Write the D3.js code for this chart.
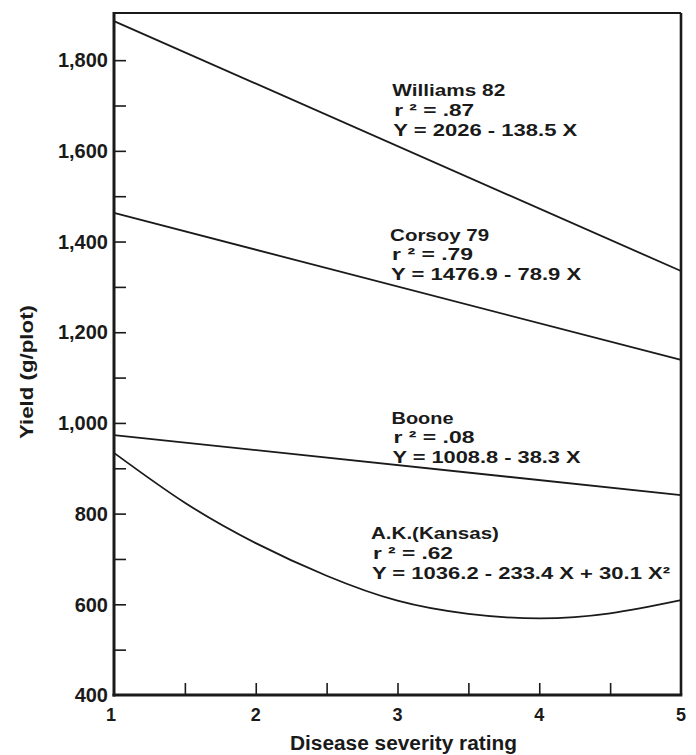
<meta http-equiv="Content-type" content="text/html;charset=UTF-8">
<html>
	<head>
		<title>Yield vs disease severity</title>
		<script src="https://d3js.org/d3.v7.min.js"></script>
		<style>
			body { margin: 0; background: #fff; }
			text { font-family: "Liberation Sans", Arial, sans-serif; font-weight: bold; fill: #1a1a1a; }
		</style>
	</head>
	<body>
		<div id="chart"></div>
		<script>
			// values
			var lineX = [1, 5];
			var williams = [1886, 1335];
			var corsoy = [1463, 1139];
			var boone = [973, 841];
			var akX = [1, 1.5, 2, 2.5, 3, 3.5, 4, 4.5, 5];
			var kansas = [934, 824, 735, 663, 608, 579, 569, 580, 609];

			var yLabelTicks = [400, 600, 800, 1000, 1200, 1400, 1600, 1800];
			var yMinorTicks = [500, 600, 700, 800, 900, 1000, 1100, 1200, 1300, 1400, 1500, 1600, 1700, 1800];
			var xLabelTicks = [1, 2, 3, 4, 5];
			var xMinorTicks = [1.5, 2, 2.5, 3, 3.5, 4, 4.5];

			var names = ["Williams 82", "Corsoy 79", "Boone", "A.K.(Kansas)"];
			var rsq = ["r \u00b2 = .87", "r \u00b2 = .79", "r \u00b2 = .08", "r \u00b2 = .62"];
			var eqs = ["Y = 2026 - 138.5 X", "Y = 1476.9 - 78.9 X", "Y = 1008.8 - 38.3 X", "Y = 1036.2 - 233.4 X + 30.1 X\u00b2"];
			// label anchor (x value, y value at equation baseline) and text widths
			var labelX = [2.97, 2.955, 2.965, 2.82];
			var labelY = [1633, 1315, 911, 656];
			var nameW = [113, 99, 62, 128], rsqW = [80, 81, 81, 80], eqW = [184, 190, 188, 298];

			var W = 696, H = 755;
			var x = d3.scaleLinear().domain([1, 5]).range([114, 681]);
			var y = d3.scaleLinear().domain([400, 1904]).range([695, 13]);

			var svg = d3.select("#chart").append("svg").attr("width", W).attr("height", H);

			// data lines
			var line = d3.line().x(function(d){ return x(d[0]); }).y(function(d){ return y(d[1]); });
			var curve = d3.line().curve(d3.curveNatural).x(function(d){ return x(d[0]); }).y(function(d){ return y(d[1]); });
			[williams, corsoy, boone].forEach(function(s){
				svg.append("path").attr("d", line(d3.zip(lineX, s)))
					.attr("fill", "none").attr("stroke", "#1a1a1a").attr("stroke-width", 1.8);
			});
			svg.append("path").attr("d", curve(d3.zip(akX, kansas)))
				.attr("fill", "none").attr("stroke", "#1a1a1a").attr("stroke-width", 1.8);

			// frame
			svg.append("line").attr("x1", x(1)).attr("x2", x(5)).attr("y1", y(1904)).attr("y2", y(1904)).attr("stroke", "#1a1a1a").attr("stroke-width", 2.2);
			svg.append("line").attr("x1", x(5)).attr("x2", x(5)).attr("y1", y(1904)).attr("y2", y(400)).attr("stroke", "#1a1a1a").attr("stroke-width", 2.6);

			// axes with inward ticks
			var yAxis = d3.axisRight(y).tickValues(yMinorTicks).tickSize(12).tickFormat("");
			var gy = svg.append("g").attr("transform", "translate(" + x(1) + ",0)").call(yAxis);
			var xAxis = d3.axisTop(x).tickValues(xMinorTicks).tickSize(12).tickFormat("");
			var gx = svg.append("g").attr("transform", "translate(0," + y(400) + ")").call(xAxis);
			[gy, gx].forEach(function(g){
				g.select(".domain").remove();
				g.selectAll(".tick line").attr("stroke", "#1a1a1a").attr("stroke-width", 1.6);
			});
			svg.append("line").attr("x1", x(1)).attr("x2", x(1)).attr("y1", y(1904) - 1).attr("y2", y(400) + 1.5).attr("stroke", "#1a1a1a").attr("stroke-width", 3);
			svg.append("line").attr("x1", x(1) - 1.5).attr("x2", x(5) + 1.3).attr("y1", y(400)).attr("y2", y(400)).attr("stroke", "#1a1a1a").attr("stroke-width", 2.8);

			// tick labels
			svg.selectAll(".ylab").data(yLabelTicks).enter().append("text")
				.attr("x", x(1) - 6).attr("y", function(d){ return y(d); }).attr("dy", "0.36em")
				.attr("text-anchor", "end").style("font-size", "20px")
				.text(function(d){ return d3.format(",")(d); });
			svg.selectAll(".xlab").data(xLabelTicks).enter().append("text")
				.attr("x", function(d){ return x(d) - (d == 1 ? 3 : 0); }).attr("y", 721)
				.attr("text-anchor", "middle").style("font-size", "18px")
				.text(function(d){ return d; });

			// axis titles
			svg.append("text").attr("x", 403.5).attr("y", 750).attr("text-anchor", "middle")
				.attr("textLength", 227).attr("lengthAdjust", "spacingAndGlyphs")
				.style("font-size", "20px").text("Disease severity rating");
			svg.append("text").attr("transform", "translate(33,372) rotate(-90)").attr("text-anchor", "middle")
				.attr("textLength", 134).attr("lengthAdjust", "spacingAndGlyphs")
				.style("font-size", "19px").text("Yield (g/plot)");

			// regression annotations
			names.forEach(function(n, i){
				var lx = x(labelX[i]), ly = y(labelY[i]);
				var g = svg.append("g");
				g.append("text").attr("x", lx - 1).attr("y", ly - 39.5).attr("textLength", nameW[i]).attr("lengthAdjust", "spacingAndGlyphs")
					.style("font-size", "17px").text(n);
				g.append("text").attr("x", lx + 1).attr("y", ly - 20).attr("textLength", rsqW[i]).attr("lengthAdjust", "spacingAndGlyphs")
					.style("font-size", "17px").text(rsq[i]);
				g.append("text").attr("x", lx).attr("y", ly).attr("textLength", eqW[i]).attr("lengthAdjust", "spacingAndGlyphs")
					.style("font-size", "17px").text(eqs[i]);
			});
		</script>
	</body>
</html>
